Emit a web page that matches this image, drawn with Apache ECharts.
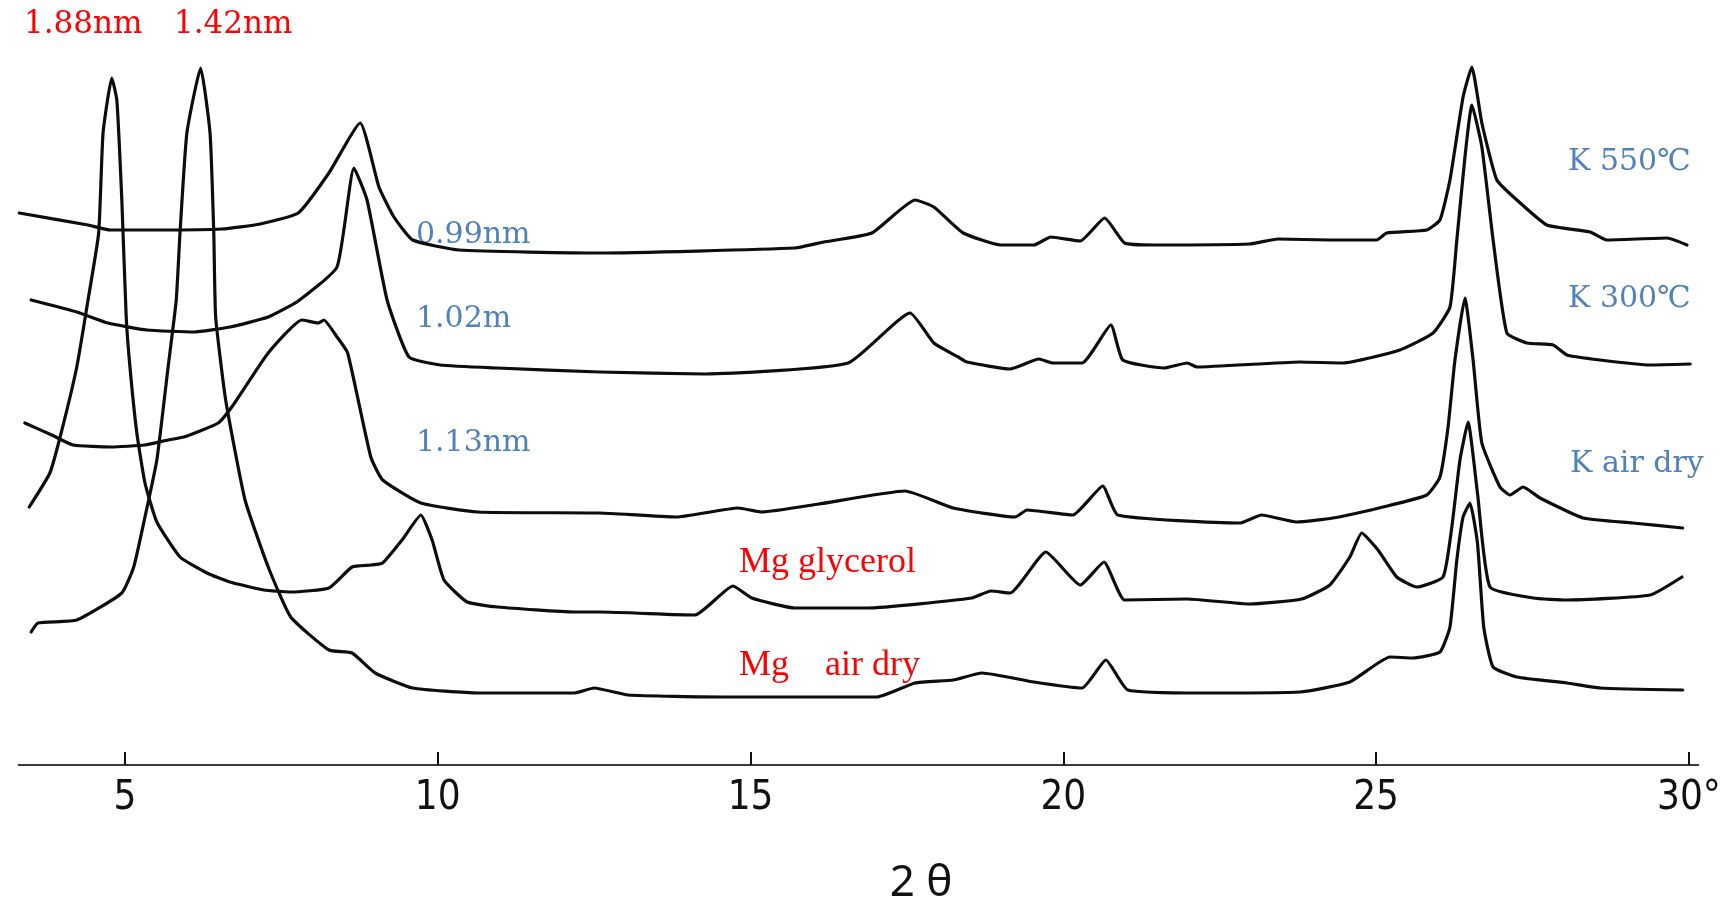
<!DOCTYPE html>
<html>
<head>
<meta charset="utf-8">
<script src="https://cdn.jsdelivr.net/npm/echarts@6/dist/echarts.min.js"></script>
<style>
  html, body { margin: 0; padding: 0; background: #ffffff; overflow: hidden; }
  #chart { width: 1731px; height: 906px; }
</style>
</head>
<body>
<div id="chart"></div>
<script>
// X-ray diffraction traces of the clay fraction, stacked with offsets.
// Each point is [2θ (degrees), relative intensity incl. stacking offset].

const twoThetaTicks = [5, 10, 15, 20, 25, 30];

const k550 = [
  [3.31, 552], [4.41, 540], [4.76, 535], [5.56, 535], [6.55, 536], [7.16, 541],
  [7.77, 552], [8.26, 592], [8.76, 642], [9.06, 578], [9.30, 548], [9.60, 525],
  [10.34, 515], [12.59, 512], [15.71, 517], [16.17, 523], [16.94, 532], [17.63, 565],
  [17.93, 558], [18.40, 532], [19.00, 520], [19.53, 520], [19.80, 528], [20.27, 524],
  [20.66, 547], [20.98, 522], [21.45, 520], [22.98, 521], [23.43, 526], [24.26, 525],
  [25.01, 525], [25.17, 532], [25.81, 535], [26.02, 545], [26.18, 585], [26.39, 668],
  [26.53, 698], [26.69, 642], [26.93, 585], [27.25, 565], [27.73, 540], [28.42, 533],
  [28.69, 525], [29.65, 527], [29.97, 520]
];

const k300 = [
  [3.50, 465], [4.23, 453], [4.73, 442], [5.35, 435], [6.10, 433], [6.68, 438],
  [7.29, 448], [7.77, 464], [8.39, 498], [8.66, 597], [8.87, 565], [9.19, 465],
  [9.54, 408], [10.04, 400], [10.95, 397], [12.59, 393], [14.26, 391], [16.56, 402],
  [17.55, 452], [17.93, 422], [18.32, 408], [18.46, 403], [19.15, 396], [19.61, 406],
  [19.83, 402], [20.30, 402], [20.76, 440], [20.95, 405], [21.61, 397], [21.98, 402],
  [22.14, 398], [23.78, 403], [24.47, 402], [25.38, 415], [25.91, 432], [26.18, 458],
  [26.29, 525], [26.42, 608], [26.53, 660], [26.69, 618], [26.87, 525], [27.09, 432],
  [27.41, 422], [27.83, 420], [28.05, 410], [28.58, 405], [29.38, 400], [30.02, 401]
];

const kAirDry = [
  [3.40, 342], [3.83, 330], [4.17, 320], [4.78, 318], [5.32, 320], [5.69, 325],
  [5.94, 328], [6.49, 342], [6.73, 360], [7.29, 412], [7.83, 445], [8.09, 442],
  [8.18, 445], [8.39, 428], [8.56, 412], [8.93, 308], [9.12, 285], [9.73, 262],
  [10.64, 253], [12.59, 252], [13.81, 248], [14.80, 257], [15.18, 253], [16.09, 261],
  [17.47, 274], [18.24, 257], [19.23, 248], [19.42, 255], [20.15, 250], [20.63, 279],
  [20.87, 250], [22.82, 242], [23.17, 250], [23.73, 243], [24.31, 247], [25.11, 258],
  [25.81, 270], [26.02, 288], [26.15, 338], [26.26, 405], [26.42, 467], [26.55, 405],
  [26.69, 322], [26.98, 278], [27.14, 270], [27.35, 278], [27.62, 267], [28.31, 247],
  [29.10, 242], [29.90, 237]
];

const mgGlycerol = [
  [3.47, 258], [3.80, 292], [3.98, 332], [4.23, 398], [4.41, 465], [4.58, 532],
  [4.65, 632], [4.79, 687], [4.87, 665], [4.95, 565], [5.02, 448], [5.08, 398],
  [5.19, 332], [5.32, 282], [5.51, 243], [5.88, 208], [6.31, 192], [6.68, 183],
  [7.22, 175], [7.65, 173], [8.26, 177], [8.63, 198], [8.93, 200], [9.12, 202],
  [9.43, 225], [9.73, 250], [9.91, 225], [10.10, 185], [10.47, 163], [10.96, 158],
  [12.18, 153], [12.59, 153], [14.11, 150], [14.72, 179], [15.02, 167], [15.71, 157],
  [16.86, 157], [18.54, 167], [18.84, 174], [19.15, 172], [19.72, 213], [20.27, 180],
  [20.65, 203], [20.98, 165], [21.98, 166], [22.98, 161], [23.81, 166], [24.26, 180],
  [24.58, 208], [24.77, 232], [25.03, 215], [25.33, 188], [25.65, 178], [26.07, 188],
  [26.21, 238], [26.34, 305], [26.47, 343], [26.62, 272], [26.82, 178], [27.51, 167],
  [28.05, 165], [29.38, 170], [29.89, 188]
];

const mgAirDry = [
  [3.50, 133], [3.61, 142], [4.23, 145], [4.95, 172], [5.14, 198], [5.32, 248],
  [5.51, 305], [5.69, 398], [5.82, 465], [5.88, 532], [5.99, 632], [6.21, 697],
  [6.36, 632], [6.42, 532], [6.45, 448], [6.61, 365], [6.92, 265], [7.29, 198],
  [7.65, 148], [8.26, 115], [8.63, 112], [9.00, 92], [9.60, 77], [10.64, 72],
  [12.18, 72], [12.50, 77], [13.04, 70], [14.56, 68], [17.02, 68], [17.63, 82],
  [18.24, 85], [18.70, 92], [19.53, 83], [20.30, 77], [20.68, 105], [21.03, 75],
  [22.22, 72], [23.78, 73], [24.58, 83], [25.22, 108], [25.59, 107], [26.02, 113],
  [26.18, 138], [26.29, 205], [26.39, 248], [26.50, 262], [26.62, 222], [26.72, 138],
  [26.87, 98], [27.25, 88], [28.05, 82], [28.58, 77], [29.90, 75]
];

// Text drawn on the chart
const peakSpacingLabels = ['1.88nm', '1.42nm'];
const kSpacingLabels = ['0.99nm', '1.02m', '1.13nm'];
const kTreatmentLabels = ['K 550℃', 'K 300℃', 'K air dry'];
const mgTreatmentLabels = ['Mg glycerol', 'Mg    air dry'];
const axisTitle = '2 θ';

const RED = '#ff0000';
const BLUE = '#4f81bd';

const chart = echarts.init(document.getElementById('chart'), null, { renderer: 'canvas' });

function trace(name, data) {
  return {
    name: name,
    type: 'line',
    data: data,
    showSymbol: false,
    symbol: 'none',
    smooth: 0.15,
    lineStyle: { color: '#0d0d0d', width: 3.2, join: 'round', cap: 'round' },
    silent: true,
    z: 3
  };
}

function textEl(text, x, y, color, font, size, align) {
  return {
    type: 'text',
    x: x,
    y: y,
    silent: true,
    style: {
      text: text,
      fill: color,
      fontFamily: font,
      fontSize: size,
      align: align || 'left',
      verticalAlign: 'middle'
    }
  };
}

const serifWide = "'DejaVu Serif', serif";
const serifNarrow = "'Liberation Serif', 'Times New Roman', serif";

const graphics = [
  textEl(peakSpacingLabels[0], 24, 25, RED, serifWide, 31),
  textEl(peakSpacingLabels[1], 174, 25, RED, serifWide, 31),
  textEl(kSpacingLabels[0], 416, 235, BLUE, serifWide, 30),
  textEl(kSpacingLabels[1], 416, 319, BLUE, serifWide, 30),
  textEl(kSpacingLabels[2], 416, 443, BLUE, serifWide, 30),
  textEl(kTreatmentLabels[0], 1568, 162, BLUE, serifWide, 30),
  textEl(kTreatmentLabels[1], 1568, 299, BLUE, serifWide, 30),
  textEl(kTreatmentLabels[2], 1570, 464, BLUE, serifWide, 30),
  textEl(mgTreatmentLabels[0], 739, 563, RED, serifNarrow, 36),
  textEl(mgTreatmentLabels[1], 739, 666, RED, serifNarrow, 36),
  textEl(axisTitle, 921, 883, '#111111', "'Noto Sans', 'DejaVu Sans', sans-serif", 44, 'center')
];

chart.setOption({
  animation: false,
  backgroundColor: '#ffffff',
  grid: { left: 18.6, right: 32.7, top: 0, bottom: 141, containLabel: false },
  xAxis: {
    type: 'value',
    min: 3.3,
    max: 30.15,
    splitLine: { show: false },
    axisLine: { show: true, lineStyle: { color: '#3a3a3a', width: 2 } },
    axisTick: {
      show: true,
      inside: true,
      length: 13,
      customValues: twoThetaTicks,
      lineStyle: { color: '#111111', width: 2 }
    },
    axisLabel: {
      show: true,
      customValues: twoThetaTicks,
      margin: 14,
      color: '#111111',
      fontSize: 40,
      fontFamily: "'Liberation Sans Narrow', 'DejaVu Sans Condensed', sans-serif",
      formatter: function (v) { return v === 30 ? '30°' : String(v); }
    }
  },
  yAxis: {
    type: 'value',
    min: 0,
    max: 765,
    show: false,
    splitLine: { show: false }
  },
  series: [
    trace('K 550℃', k550),
    trace('K 300℃', k300),
    trace('K air dry', kAirDry),
    trace('Mg glycerol', mgGlycerol),
    trace('Mg air dry', mgAirDry)
  ],
  graphic: graphics
});
</script>
</body>
</html>
